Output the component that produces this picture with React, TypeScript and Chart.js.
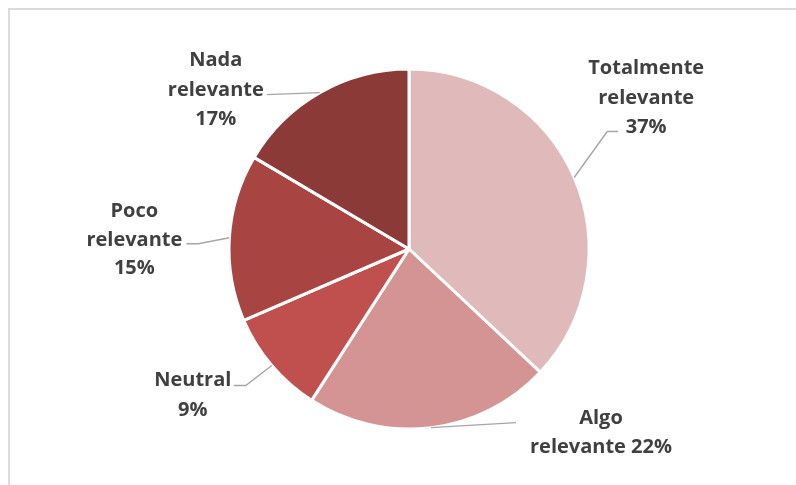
import React, { useEffect, useRef } from "react";
import { Chart, registerables } from "chart.js";

Chart.register(...registerables);

const categories = [
  "Totalmente relevante",
  "Algo relevante",
  "Neutral",
  "Poco relevante",
  "Nada relevante",
];
const values = [37, 22.1, 9.4, 15, 16.5];
const sliceColors = ["#E0BABA", "#D49494", "#C0504D", "#A84543", "#8B3A38"];
// How each data label is broken into lines
const labelLines = [
  ["Totalmente", "relevante", "37%"],
  ["Algo", "relevante 22%"],
  ["Neutral", "9%"],
  ["Poco", "relevante", "15%"],
  ["Nada", "relevante", "17%"],
];

// Label layout, as offsets from the point on the pie edge at each slice's middle angle
const labelLayout = [
  { leader: [[33, -46], [44, -46]], tx: 72, baselines: [-104, -74, -45] },
  { leader: [[85, -5]], tx: 170, baselines: [-4, 25] },
  { leader: [[-26, 20], [-38, 20]], tx: -79, baselines: [21, 51] },
  { leader: [[-31, 6], [-43, 6]], tx: -95, baselines: [-21, 8, 36] },
  { leader: [[-53, 2]], tx: -104, baselines: [-27, 3, 32] },
];

const FONT = "bold 20px 'Open Sans', Lato, sans-serif";

const framePlugin = {
  id: "frame",
  beforeDraw(chart: any) {
    const ctx = chart.ctx;
    ctx.save();
    ctx.fillStyle = "#ffffff";
    ctx.fillRect(0, 0, chart.width, chart.height);
    ctx.fillStyle = "#dcdcdc";
    ctx.fillRect(8, 8, chart.width, 2);
    ctx.fillRect(8, 8, 2, chart.height);
    ctx.restore();
  },
};

const labelPlugin = {
  id: "pieLabels",
  afterDatasetsDraw(chart: any) {
    const ctx = chart.ctx;
    const meta = chart.getDatasetMeta(0);
    ctx.save();
    meta.data.forEach((arc: any, i: number) => {
      const p = arc.getProps(["x", "y", "startAngle", "endAngle", "outerRadius"], true);
      const mid = (p.startAngle + p.endAngle) / 2;
      const ex = p.x + Math.cos(mid) * p.outerRadius;
      const ey = p.y + Math.sin(mid) * p.outerRadius;
      const lay = labelLayout[i];
      ctx.strokeStyle = "#A6A6A6";
      ctx.lineWidth = 1.4;
      ctx.beginPath();
      ctx.moveTo(ex, ey);
      lay.leader.forEach(([dx, dy]) => ctx.lineTo(ex + dx, ey + dy));
      ctx.stroke();
      ctx.fillStyle = "#404040";
      ctx.font = FONT;
      ctx.textAlign = "center";
      ctx.textBaseline = "alphabetic";
      labelLines[i].forEach((line, j) => {
        ctx.fillText(line, ex + lay.tx, ey + lay.baselines[j]);
      });
    });
    ctx.restore();
  },
};

export default function App() {
  const canvasRef = useRef<HTMLCanvasElement | null>(null);

  useEffect(() => {
    if (!canvasRef.current) return;
    const chart = new Chart(canvasRef.current, {
      type: "pie",
      data: {
        labels: categories,
        datasets: [
          {
            data: values,
            backgroundColor: sliceColors,
            borderColor: "#ffffff",
            borderWidth: 3,
          },
        ],
      },
      options: {
        responsive: false,
        animation: false,
        devicePixelRatio: 1,
        radius: 180,
        layout: { padding: { left: 60, right: 38, top: 40, bottom: 27 } },
        plugins: {
          legend: { display: false },
          tooltip: { enabled: false },
          title: { display: false },
        },
      } as any,
      plugins: [framePlugin, labelPlugin],
    });
    return () => chart.destroy();
  }, []);

  return (
    <div style={{ position: "fixed", left: 0, top: 0, width: 796, height: 485, background: "#fff" }}>
      <canvas ref={canvasRef} width={796} height={485} style={{ display: "block" }} />
    </div>
  );
}
